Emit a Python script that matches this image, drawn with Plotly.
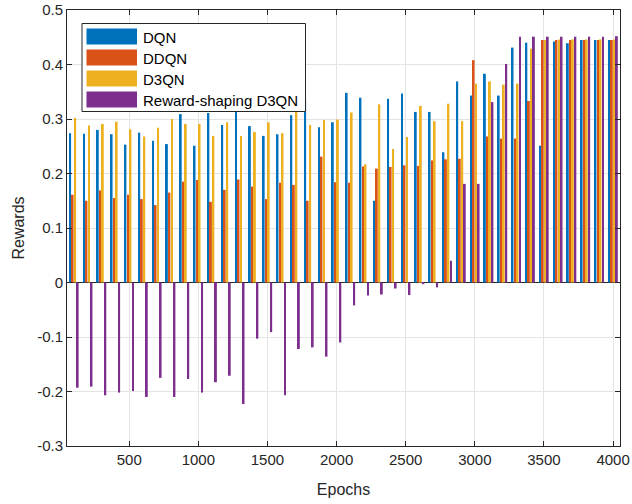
import plotly.graph_objects as go

# Training epochs (one bar group every 100 epochs)
epochs = list(range(100, 4001, 100))

dqn = [0.274, 0.273, 0.280, 0.272, 0.253, 0.275, 0.260, 0.254, 0.309, 0.251,
       0.311, 0.289, 0.330, 0.287, 0.269, 0.272, 0.307, 0.336, 0.285, 0.294,
       0.348, 0.339, 0.150, 0.337, 0.347, 0.313, 0.313, 0.239, 0.369, 0.343,
       0.383, 0.343, 0.431, 0.440, 0.251, 0.442, 0.439, 0.445, 0.445, 0.445]

ddqn = [0.161, 0.150, 0.169, 0.155, 0.161, 0.153, 0.142, 0.165, 0.185, 0.188,
        0.148, 0.170, 0.189, 0.176, 0.153, 0.183, 0.179, 0.150, 0.231, 0.184,
        0.183, 0.213, 0.209, 0.212, 0.215, 0.214, 0.224, 0.226, 0.227, 0.408,
        0.268, 0.264, 0.264, 0.333, 0.445, 0.445, 0.445, 0.445, 0.445, 0.445]

d3qn = [0.302, 0.288, 0.291, 0.295, 0.281, 0.268, 0.284, 0.300, 0.291, 0.291,
        0.269, 0.294, 0.269, 0.276, 0.294, 0.274, 0.320, 0.289, 0.298, 0.299,
        0.312, 0.217, 0.327, 0.245, 0.267, 0.324, 0.296, 0.328, 0.296, 0.365,
        0.369, 0.363, 0.365, 0.429, 0.445, 0.446, 0.446, 0.446, 0.446, 0.446]

rs_d3qn = [-0.193, -0.191, -0.207, -0.202, -0.199, -0.210, -0.175, -0.210, -0.177, -0.202,
           -0.183, -0.171, -0.223, -0.103, -0.091, -0.207, -0.122, -0.119, -0.136, -0.110,
           -0.042, -0.024, -0.022, -0.011, -0.023, -0.003, -0.009, 0.040, 0.181, 0.181,
           0.331, 0.401, 0.451, 0.451, 0.451, 0.451, 0.451, 0.451, 0.451, 0.452]

series_names = ["DQN", "DDQN", "D3QN", "Reward-shaping D3QN"]
series_values = [dqn, ddqn, d3qn, rs_d3qn]
series_colors = ["#0072BD", "#D95319", "#EDB120", "#7E2F8E"]

y_ticks = [-0.3, -0.2, -0.1, 0, 0.1, 0.2, 0.3, 0.4, 0.5]
y_tick_text = ["-0.3", "-0.2", "-0.1", "0", "0.1", "0.2", "0.3", "0.4", "0.5"]
x_ticks = [500, 1000, 1500, 2000, 2500, 3000, 3500, 4000]

FONT = "Liberation Sans, Arial, Helvetica, sans-serif"
INK = "#262626"

fig = go.Figure()
for name, vals, col in zip(series_names, series_values, series_colors):
    fig.add_trace(go.Bar(x=epochs, y=vals, name=name,
                         marker=dict(color=col, line=dict(width=0)),
                         showlegend=False))

W, H = 632, 504
ml, mr, mt, mb = 67, 12, 10, 58
pw, ph = W - ml - mr, H - mt - mb


def px_x(p):
    return (p - ml) / pw


def px_y(p):
    return (H - mb - p) / ph


# Boxed legend with wide colour swatches in the upper-left corner
shapes = [dict(type="rect", xref="paper", yref="paper", layer="above",
               x0=px_x(82), x1=px_x(305.5), y0=px_y(111.5), y1=px_y(23.5),
               fillcolor="white", line=dict(color=INK, width=1))]
annotations = []
row_top = [28.5, 49.5, 70.5, 91.5]
for name, col, top in zip(series_names, series_colors, row_top):
    shapes.append(dict(type="rect", xref="paper", yref="paper", layer="above",
                       x0=px_x(86.5), x1=px_x(137), y0=px_y(top + 16), y1=px_y(top),
                       fillcolor=col, line=dict(width=0)))
    annotations.append(dict(xref="paper", yref="paper", x=px_x(141), y=px_y(top + 8.5),
                            text=name, showarrow=False, xanchor="left", yanchor="middle",
                            font=dict(family=FONT, size=15, color="#000000")))

fig.update_layout(
    width=W, height=H,
    margin=dict(l=ml, r=mr, t=mt, b=mb, autoexpand=False),
    paper_bgcolor="white", plot_bgcolor="white",
    barmode="group", bargap=0.273, bargroupgap=0.25,
    font=dict(family=FONT, size=15, color=INK),
    shapes=shapes, annotations=annotations,
    xaxis=dict(range=[50, 4050], tickvals=x_ticks, ticks="inside", ticklen=5,
               tickcolor=INK, showline=True, linecolor=INK, linewidth=1, mirror="ticks",
               showgrid=True, gridcolor="#e4e4e4", gridwidth=1, zeroline=False,
               automargin=False,
               tickfont=dict(family=FONT, size=15, color=INK),
               title=dict(text="Epochs", font=dict(family=FONT, size=16, color=INK), standoff=16)),
    yaxis=dict(range=[-0.3, 0.5], tickvals=y_ticks, ticktext=y_tick_text, ticks="inside",
               ticklen=5, tickcolor=INK, showline=True, linecolor=INK, linewidth=1,
               mirror="ticks", showgrid=True, gridcolor="#e4e4e4", gridwidth=1,
               zeroline=True, zerolinecolor=INK, zerolinewidth=1, automargin=False,
               tickfont=dict(family=FONT, size=15, color=INK),
               title=dict(text="Rewards", font=dict(family=FONT, size=16, color=INK), standoff=8)),
)

fig.write_html("out.html")
